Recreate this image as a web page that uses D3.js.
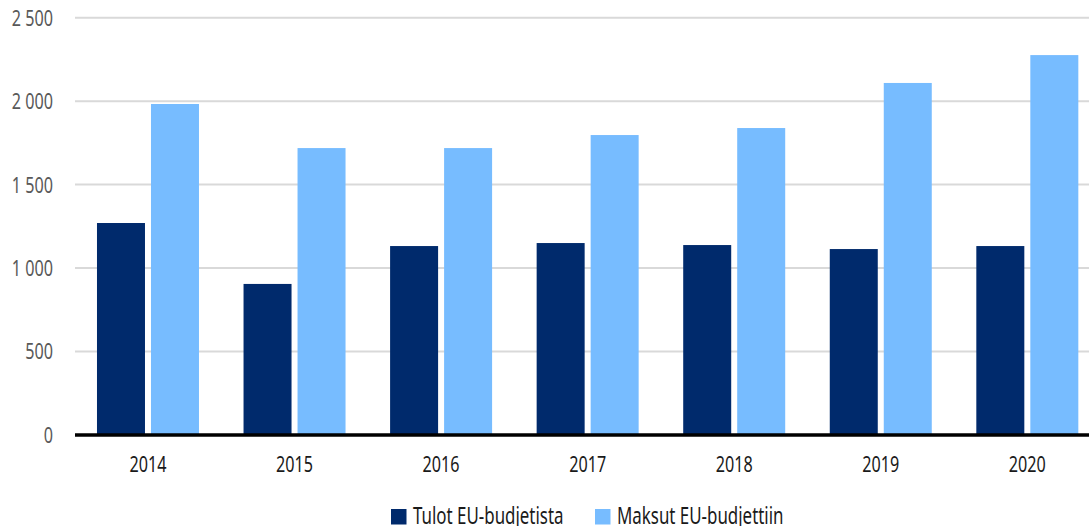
<!DOCTYPE html>
<html>
<head>
<meta charset="utf-8">
<script src="https://cdn.jsdelivr.net/npm/d3@7"></script>
<style>
  html, body { margin: 0; padding: 0; background: #fff; }
  svg { display: block; font-family: "Noto Sans", "Open Sans", "DejaVu Sans", sans-serif; }
</style>
</head>
<body>
<svg id="chart" width="1089" height="526"></svg>
<script>
// EU budget flows by year (million euros)
const years = ["2014", "2015", "2016", "2017", "2018", "2019", "2020"];
const tulot = [1270, 905, 1132, 1150, 1138, 1114, 1132];     // Tulot EU-budjetista
const maksut = [1983, 1719, 1719, 1797, 1839, 2109, 2276];  // Maksut EU-budjettiin
const seriesNames = ["Tulot EU-budjetista", "Maksut EU-budjettiin"];
const seriesColors = ["#002a6c", "#77bcff"];
const yTicks = [0, 500, 1000, 1500, 2000, 2500];

const width = 1089, height = 526;
const fontSize = 22;
const squeeze = 0.735;   // horizontal condensing of all labels

const svg = d3.select("#chart");

const x = d3.scaleBand().domain(years).range([74.7, 1100.6]).paddingInner(0).paddingOuter(0);
const y = d3.scaleLinear().domain([0, 2500]).range([435, 17.7]);

const series = [tulot, maksut];
const barW = 48, gap = 6;

// condensed text placed at (px, py)
function label(parent, px, py, txt, anchor, fill, size) {
  return parent.append("text")
    .attr("transform", `translate(${px},${py}) scale(${squeeze},1)`)
    .attr("text-anchor", anchor)
    .attr("fill", fill)
    .attr("font-size", size)
    .text(txt);
}

// horizontal gridlines
svg.append("g")
  .selectAll("line")
  .data(yTicks.filter(d => d > 0))
  .join("line")
  .attr("x1", 75).attr("x2", width)
  .attr("y1", d => y(d)).attr("y2", d => y(d))
  .attr("stroke", "#d9d9d9").attr("stroke-width", 2);

// y tick labels
const fmt = v => d3.format(",")(v).replace(/,/g, " ");
const gy = svg.append("g");
yTicks.forEach(t => label(gy, 53, y(t) + 0.36 * fontSize, fmt(t), "end", "#595959", fontSize));

// bars
series.forEach((vals, si) => {
  svg.append("g")
    .selectAll("rect")
    .data(vals)
    .join("rect")
    .attr("x", (d, i) => x(years[i]) + x.bandwidth() / 2 + (si === 0 ? -gap / 2 - barW : gap / 2))
    .attr("y", d => y(d))
    .attr("width", barW)
    .attr("height", d => y(0) - y(d))
    .attr("fill", seriesColors[si]);
});

// baseline
svg.append("line")
  .attr("x1", 75).attr("x2", width)
  .attr("y1", y(0)).attr("y2", y(0))
  .attr("stroke", "#000").attr("stroke-width", 3.5);

// x labels
const gx = svg.append("g");
years.forEach(yr => label(gx, x(yr) + x.bandwidth() / 2, 472.3, yr, "middle", "#1a1a1a", fontSize));

// legend
const legendX = [391, 595];
const lg = svg.append("g");
seriesNames.forEach((name, i) => {
  lg.append("rect")
    .attr("x", legendX[i]).attr("y", 509)
    .attr("width", 15.5).attr("height", 15.5)
    .attr("fill", seriesColors[i]);
  label(lg, legendX[i] + 22, 524, name, "start", "#1a1a1a", 23);
});
</script>
</body>
</html>
